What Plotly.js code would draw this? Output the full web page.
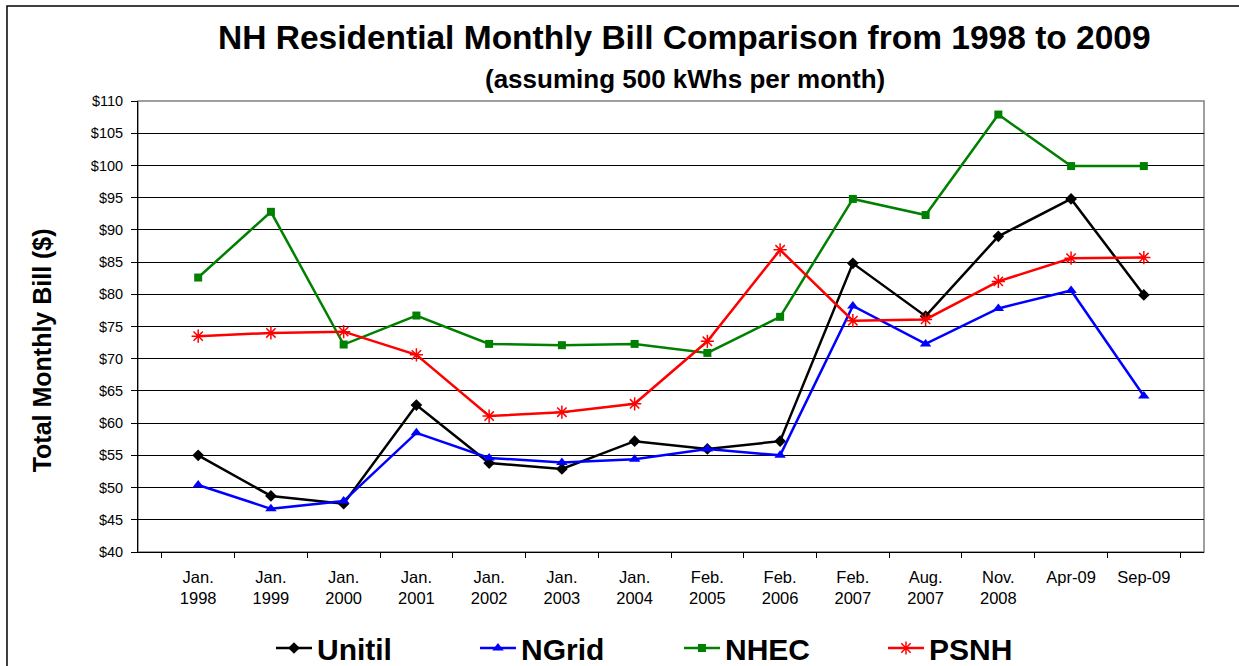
<!DOCTYPE html>
<html>
<head>
<meta charset="utf-8">
<script src="https://cdn.plot.ly/plotly-3.0.1.min.js"></script>
<style>
  body { margin: 0; background: white; }
  #chart { width: 1239px; height: 666px; }
</style>
</head>
<body>
<div id="chart"></div>
<script>
// categories (billing periods)
var periods = ['Jan.<br>1998', 'Jan.<br>1999', 'Jan.<br>2000', 'Jan.<br>2001', 'Jan.<br>2002', 'Jan.<br>2003',
  'Jan.<br>2004', 'Feb.<br>2005', 'Feb.<br>2006', 'Feb.<br>2007', 'Aug.<br>2007', 'Nov.<br>2008', 'Apr-09', 'Sep-09'];

// monthly bill in dollars
var unitil = [55.0, 48.7, 47.5, 62.8, 53.8, 52.9, 57.2, 56.0, 57.2, 84.8, 76.6, 89.0, 94.8, 79.9];
var ngrid  = [50.4, 46.7, 47.9, 58.5, 54.6, 53.9, 54.4, 56.0, 55.0, 78.2, 72.3, 77.8, 80.6, 64.2];
var nhec   = [82.6, 92.8, 72.2, 76.7, 72.3, 72.1, 72.3, 70.9, 76.5, 94.8, 92.3, 107.9, 99.9, 99.9];
var psnh   = [73.5, 74.0, 74.2, 70.6, 61.1, 61.7, 63.0, 72.7, 86.9, 75.9, 76.1, 82.0, 85.6, 85.7];

var yTicks = [40, 45, 50, 55, 60, 65, 70, 75, 80, 85, 90, 95, 100, 105, 110];

var trace_unitil = {
  x: periods, y: unitil, type: 'scatter', mode: 'lines+markers', name: 'Unitil',
  line: { color: '#000000', width: 2.5 },
  marker: { symbol: 'diamond', size: 9, color: '#000000' }
};
var trace_ngrid = {
  x: periods, y: ngrid, type: 'scatter', mode: 'lines+markers', name: 'NGrid',
  line: { color: '#0000ff', width: 2.5 },
  marker: { symbol: 'triangle-up', size: 10, color: '#0000ff' }
};
var trace_nhec = {
  x: periods, y: nhec, type: 'scatter', mode: 'lines+markers', name: 'NHEC',
  line: { color: '#008000', width: 2.5 },
  marker: { symbol: 'square', size: 8, color: '#008000' }
};
var trace_psnh = {
  x: periods, y: psnh, type: 'scatter', mode: 'lines+markers', name: 'PSNH',
  line: { color: '#ff0000', width: 2.5 },
  marker: { symbol: 'asterisk-open', size: 11, color: '#ff0000', line: { color: '#ff0000', width: 1.5 } }
};

var layout = {
  width: 1239,
  height: 666,
  margin: { l: 138, r: 35, t: 101, b: 114 },
  paper_bgcolor: 'white',
  plot_bgcolor: 'white',
  font: { family: 'Liberation Sans, Arial', size: 15, color: '#000000' },
  showlegend: true,
  legend: {
    orientation: 'h',
    xref: 'container', yref: 'container',
    x: 0.548, xanchor: 'center',
    y: 0.027, yanchor: 'middle',
    font: { size: 30, weight: 'bold', color: '#000000' },
    entrywidth: 153,
    itemwidth: 36,
    traceorder: 'normal'
  },
  xaxis: {
    type: 'category',
    showgrid: false,
    showline: true, linecolor: '#000000', linewidth: 1,
    ticks: 'outside', ticklen: 5, tickcolor: '#000000',
    tickson: 'boundaries',
    ticklabelstandoff: 10,
    tickfont: { size: 16.5 },
    automargin: false,
    fixedrange: true
  },
  yaxis: {
    range: [40, 110],
    tickvals: yTicks,
    ticktext: yTicks.map(function (v) { return '$' + v; }),
    showgrid: true, gridcolor: '#000000', gridwidth: 1,
    showline: true, linecolor: '#000000', linewidth: 1,
    ticks: 'outside', ticklen: 6, tickcolor: '#000000',
    ticklabelstandoff: 5,
    tickfont: { size: 14.5 },
    zeroline: false,
    automargin: false,
    fixedrange: true
  },
  shapes: [
    // plot frame (top / right in grey)
    { type: 'rect', xref: 'paper', yref: 'paper', x0: 0, x1: 1, y0: 0, y1: 1,
      line: { color: '#808080', width: 1.5 }, layer: 'below' },
    // outer chart border
    { type: 'rect', xref: 'paper', yref: 'paper', x0: -0.1229, x1: 1.06, y0: -0.35, y1: 1.2106,
      line: { color: '#000000', width: 1.5 } }
  ],
  annotations: [
    { text: '<b>NH Residential Monthly Bill Comparison from 1998 to 2009</b>', xref: 'paper', yref: 'paper',
      x: 0.513, y: 1.141, xanchor: 'center', yanchor: 'middle', showarrow: false,
      font: { size: 33.5, color: '#000000' } },
    { text: '<b>(assuming 500 kWhs per month)</b>', xref: 'paper', yref: 'paper',
      x: 0.513, y: 1.049, xanchor: 'center', yanchor: 'middle', showarrow: false,
      font: { size: 26, color: '#000000' } },
    { text: '<b>Total Monthly Bill ($)</b>', xref: 'paper', yref: 'paper',
      x: -0.0901, y: 0.447, xanchor: 'center', yanchor: 'middle', showarrow: false, textangle: -90,
      font: { size: 25, color: '#000000' } }
  ]
};

Plotly.newPlot('chart', [trace_unitil, trace_ngrid, trace_nhec, trace_psnh], layout, { displayModeBar: false, staticPlot: true });
</script>
</body>
</html>
